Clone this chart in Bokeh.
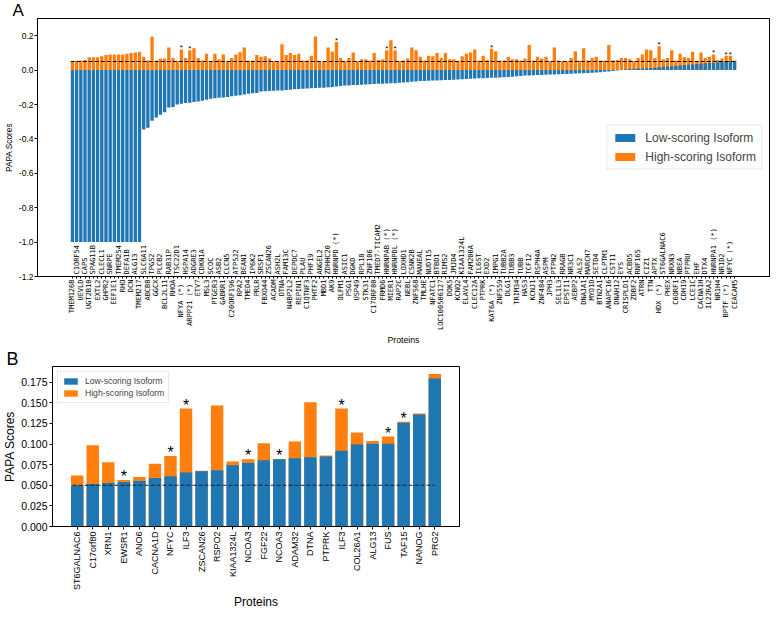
import math
from bokeh.plotting import figure
from bokeh.models import (Range1d, FixedTicker, Legend, LegendItem,
                          ColumnDataSource, NumeralTickFormatter)
from bokeh.layouts import column, row
from bokeh.embed import file_html
from bokeh.resources import INLINE
from bokeh.core.properties import value

# ---------------- Panel A data ----------------
proteins_a = [
    "TMEM126B", "C1ORF54", "UEVLD", "CAPS", "UGT2B10", "SPAG11B", "EXTL2", "CLECL1",
    "GHPR2", "SNRPE", "EEF1E1", "TMEM254", "RHO", "DEFA1B", "DCN", "ALG13",
    "TMEM217", "SLC6A11", "ABCB8", "TPGS2", "GGCX", "PLCB2", "BCL2L11", "RAB31P",
    "RHOA", "TSC22D1", "NFYA  (*)", "HSPA14", "ARPP21  (*)", "ADGRE3", "ETV7", "CDKN1A",
    "MSL3", "SCOC", "PTGER3", "ASB2", "GABRR1", "CLCN5", "C20ORF196", "ATP5J2",
    "RPA2", "BEAN1", "TMED4", "IP6K2", "PRLR", "SRSF1", "FBXO44", "ZSCAN26",
    "ACADM", "ASH2L", "DTNA", "FAM13C", "N4BP2L2", "DEPDC7", "REPIN1", "PLAU",
    "C1QTNF3", "PHF19", "PHTF2", "ANGEL2", "MBD1", "ZDHHC20", "AK9", "HNRNPD  (*)",
    "OLFM1", "ASIC1", "PSG1", "DGKD", "USP49", "RPL18", "STK31", "ZNF106",
    "C17ORF80", "TMED7-TICAM2", "FRMD6", "HNRNPAB  (*)", "MIER1", "HNRNPDL  (*)", "RAP2C", "LOXHD1",
    "NEBL", "CSNK2B", "ZNF568", "MANEAL", "TMLHE", "NUDT15", "NFATC1", "BTBD1",
    "LOC100506127", "RIMS2", "DOK5", "JMJD4", "KCNQ2", "KIAA1324L", "ELAVL4", "FAM200A",
    "CLEC12A", "IL6ST", "PTPRK", "EXD2", "KAT6A  (*)", "IMPG1", "ZNF559", "TUBB2A",
    "DLG1", "TUBB3", "TRIM34", "TUBB", "HAS3", "TCF12", "KCNJ1", "RSPH4A",
    "ZNF484", "ASPM", "JPH3", "PTPN2", "SEL1L3", "RRAGB", "EPSTI1", "NR3C1",
    "AEBP2", "ALS2", "DNAJA1", "MARCH7", "MYO1D", "SETD4", "BTN2A1", "CLPTM1",
    "ANAPC16", "CST11", "DNAH12", "EYS", "CRISPLD1", "ACBD5", "ZDBF2", "RNF165",
    "ATRN", "CIZ1", "TTN", "APTX", "HDX  (*)", "ST6GALNAC6", "PHEX", "NRXN3",
    "C6ORF1", "NBEA", "CDH19", "PTPRU", "LCE1C", "EHF", "CACNA1H", "DTX4",
    "IL22RA2", "HNRNPA1  (*)", "NR1H4", "NR1D2", "BPTF  (*)", "NFYC  (*)", "CEACAM5",
]

low_a = [
    -1.0, -1.0, -1.0, -1.0, -1.0, -1.0, -1.0, -1.0, -1.0, -1.0,
    -1.0, -1.0, -1.0, -1.0, -1.0, -1.0, -1.0, -0.345, -0.335, -0.295,
    -0.275, -0.26, -0.245, -0.218, -0.215, -0.2, -0.196, -0.192, -0.19, -0.186,
    -0.182, -0.178, -0.172, -0.166, -0.163, -0.161, -0.16, -0.156, -0.152, -0.149,
    -0.146, -0.142, -0.137, -0.135, -0.133, -0.125, -0.123, -0.121, -0.12, -0.119,
    -0.118, -0.116, -0.114, -0.112, -0.11, -0.108, -0.107, -0.105, -0.104, -0.103,
    -0.102, -0.1, -0.098, -0.096, -0.093, -0.09, -0.089, -0.087, -0.086, -0.085,
    -0.084, -0.082, -0.081, -0.08, -0.079, -0.078, -0.077, -0.076, -0.074, -0.072,
    -0.07, -0.068, -0.066, -0.064, -0.063, -0.062, -0.061, -0.06, -0.059, -0.058,
    -0.057, -0.056, -0.055, -0.053, -0.052, -0.05, -0.049, -0.048, -0.047, -0.046,
    -0.045, -0.044, -0.043, -0.042, -0.04, -0.038, -0.036, -0.034, -0.032, -0.031,
    -0.03, -0.029, -0.028, -0.027, -0.026, -0.025, -0.024, -0.023, -0.022, -0.021,
    -0.02, -0.019, -0.018, -0.017, -0.016, -0.014, -0.012, -0.01, -0.008, -0.005,
    -0.003, 0.002, 0.004, 0.006, 0.008, 0.009, 0.01, 0.011, 0.012, 0.013,
    0.016, 0.019, 0.021, 0.023, 0.025, 0.027, 0.029, 0.031, 0.033, 0.036,
    0.038, 0.04, 0.042, 0.043, 0.045, 0.047, 0.048, 0.05, 0.053,
]

high_a = [
    0.052, 0.054, 0.056, 0.059, 0.074, 0.074, 0.074, 0.081, 0.088, 0.091,
    0.091, 0.091, 0.091, 0.095, 0.100, 0.102, 0.106, 0.077, 0.056, 0.194,
    0.056, 0.067, 0.067, 0.132, 0.070, 0.052, 0.120, 0.070, 0.116, 0.127,
    0.070, 0.056, 0.095, 0.052, 0.095, 0.063, 0.091, 0.052, 0.070, 0.090,
    0.104, 0.131, 0.056, 0.056, 0.088, 0.077, 0.081, 0.067, 0.052, 0.052,
    0.150, 0.088, 0.099, 0.088, 0.095, 0.056, 0.056, 0.084, 0.195, 0.052,
    0.052, 0.131, 0.108, 0.163, 0.070, 0.052, 0.070, 0.102, 0.052, 0.063,
    0.063, 0.056, 0.099, 0.059, 0.063, 0.116, 0.174, 0.116, 0.052, 0.056,
    0.068, 0.131, 0.116, 0.077, 0.056, 0.084, 0.081, 0.099, 0.070, 0.099,
    0.063, 0.063, 0.052, 0.081, 0.095, 0.102, 0.120, 0.056, 0.084, 0.059,
    0.124, 0.109, 0.056, 0.056, 0.077, 0.063, 0.063, 0.056, 0.067, 0.146,
    0.056, 0.077, 0.067, 0.077, 0.052, 0.131, 0.056, 0.052, 0.052, 0.070,
    0.109, 0.056, 0.127, 0.056, 0.070, 0.077, 0.056, 0.056, 0.146, 0.056,
    0.059, 0.070, 0.070, 0.063, 0.052, 0.070, 0.091, 0.120, 0.116, 0.070,
    0.138, 0.063, 0.070, 0.116, 0.056, 0.095, 0.074, 0.070, 0.106, 0.052,
    0.102, 0.070, 0.077, 0.091, 0.059, 0.067, 0.084, 0.084, 0.056,
]

threshold = 0.05
yticks_a = [-1.2, -1.0, -0.8, -0.6, -0.4, -0.2, 0.0, 0.2]

# ---------------- Panel B data ----------------
proteins_b = ["ST6GALNAC6", "C17orf80", "XRN1", "EWSR1", "ANO6", "CACNA1D", "NFYC",
              "ILF3", "ZSCAN26", "RSPO2", "KIAA1324L", "NCOA3", "FGF22", "NCOA3",
              "ADAM32", "DTNA", "PTPRK", "ILF3", "COL26A1", "ALG13", "FUS", "TAF15",
              "NANOG", "PRG2"]
low_b = [0.050, 0.0515, 0.0526, 0.054, 0.0553, 0.0587, 0.061, 0.0656, 0.0671, 0.0682,
         0.0743, 0.077, 0.0804, 0.0816, 0.0827, 0.0839, 0.085, 0.0919, 0.0995, 0.1003,
         0.1003, 0.1258, 0.1357, 0.1796]
high_b = [0.0618, 0.0984, 0.0778, 0.0564, 0.0599, 0.0762, 0.0854, 0.143, 0.0675, 0.1468,
          0.0789, 0.0816, 0.101, 0.0818, 0.103, 0.1506, 0.0862, 0.143, 0.114, 0.1037,
          0.109, 0.127, 0.1369, 0.185]
starred_b = [False, False, False, True, False, False, True, True, False, False,
             False, True, False, True, False, False, False, True, False, False,
             True, True, False, False]
yticks_b = [0.0, 0.025, 0.05, 0.075, 0.1, 0.125, 0.15, 0.175]

BLUE = "#1f77b4"
ORANGE = "#ff7f0e"
SANS = "Liberation Sans"
MONO = "DejaVu Sans Mono"


def style_common(p):
    p.background_fill_color = "white"
    p.border_fill_color = "white"
    p.outline_line_color = "black"
    p.outline_line_width = 1
    p.xgrid.visible = False
    p.ygrid.visible = False
    for ax in (p.xaxis[0], p.yaxis[0]):
        ax.axis_line_color = "black"
        ax.major_tick_line_color = "black"
        ax.minor_tick_line_color = None
        ax.major_tick_in = 0
        ax.axis_label_text_font_style = "normal"
        ax.axis_label_text_color = "black"
        ax.major_label_text_color = "black"
        ax.axis_label_text_font = SANS
        ax.major_label_text_font = SANS


def panel_letter(p, letter, size, offset, standoff):
    p.title.text = letter
    p.title.align = "left"
    p.title.text_font = SANS
    p.title.text_font_size = size
    p.title.text_font_style = "normal"
    p.title.text_color = "black"
    p.title.offset = offset
    try:
        p.title.standoff = standoff
    except Exception:
        p.title.standoff = 0


# ---------------- Figure A ----------------
n_a = len(proteins_a)
idx_a = list(range(n_a))
pad_a = (n_a - 1 + 0.8) * 0.05
pA = figure(width=770, height=348, output_backend="svg", toolbar_location=None,
            x_range=Range1d(-0.4 - pad_a, n_a - 1 + 0.4 + pad_a),
            y_range=Range1d(-1.2, 0.3),
            min_border_top=0, min_border_right=1, min_border_left=0, min_border_bottom=0)
style_common(pA)
panel_letter(pA, "A", "17px", -25, -3)

src_a = ColumnDataSource(dict(x=idx_a, low=low_a, high=high_a))
r_high_a = pA.vbar(x="x", top="high", bottom=0, width=0.8, source=src_a,
                   fill_color=ORANGE, line_color=None)
r_low_a = pA.vbar(x="x", top="low", bottom=0, width=0.8, source=src_a,
                  fill_color=BLUE, line_color=None)
pA.line(x=[-0.4, n_a - 1 + 0.4], y=[threshold, threshold], line_color="black",
        line_dash="4 2", line_width=1)

# asterisks
star_x = [i for i, n in enumerate(proteins_a) if "(*)" in n]
star_y = [high_a[i] for i in star_x]
pA.text(x=star_x, y=star_y, text=["*"] * len(star_x), text_align="center",
        text_baseline="bottom", text_font=value(SANS), text_font_size="8px",
        text_color="black", y_offset=3)

# upper row of labels (odd positions), inside the frame
up_x = [i for i in idx_a if i % 2 == 1]
up_t = [proteins_a[i] for i in up_x]
pA.text(x=up_x, y=[-1.2] * len(up_x), text=up_t, angle=math.pi / 2,
        text_align="left", text_baseline="middle", y_offset=-2,
        text_font=value(MONO), text_font_size="7px", text_color="black")

xa = pA.xaxis[0]
xa.ticker = FixedTicker(ticks=idx_a)
xa.major_label_overrides = {i: (proteins_a[i] if i % 2 == 0 else "") for i in idx_a}
xa.major_label_orientation = math.pi / 2
xa.major_label_text_font = MONO
xa.major_label_text_font_size = "7px"
xa.major_tick_out = 2
xa.major_label_standoff = 1
xa.axis_label = "Proteins"
xa.axis_label_text_font_size = "8.7px"
xa.axis_label_standoff = 2

ya = pA.yaxis[0]
ya.ticker = FixedTicker(ticks=yticks_a)
ya.formatter = NumeralTickFormatter(format="0.0")
ya.major_label_text_font_size = "8.5px"
ya.major_tick_out = 3
ya.major_label_standoff = 1
ya.axis_label = "PAPA Scores"
ya.axis_label_text_font_size = "8.3px"
ya.axis_label_standoff = 2

leg_a = Legend(items=[LegendItem(label="Low-scoring Isoform", renderers=[r_low_a]),
                      LegendItem(label="High-scoring Isoform", renderers=[r_high_a])],
               location="center_right", margin=7, padding=5, spacing=5,
               glyph_width=25, glyph_height=10, label_height=12, label_standoff=8,
               label_text_font=SANS, label_text_font_size="12px",
               border_line_color="#d0d0d0", border_line_width=1,
               background_fill_color="white", background_fill_alpha=1.0)
pA.add_layout(leg_a)

# ---------------- Figure B ----------------
n_b = len(proteins_b)
idx_b = list(range(n_b))
pad_b = (n_b - 1 + 0.8) * 0.05
pB = figure(width=461, height=264, output_backend="svg", toolbar_location=None,
            x_range=Range1d(-0.4 - pad_b, n_b - 1 + 0.4 + pad_b),
            y_range=Range1d(0, 0.194),
            min_border_top=17, min_border_right=2, min_border_left=0, min_border_bottom=0)
style_common(pB)
panel_letter(pB, "B", "18px", -46, -4)

src_b = ColumnDataSource(dict(x=idx_b, low=low_b, high=high_b))
r_high_b = pB.vbar(x="x", top="high", bottom=0, width=0.8, source=src_b,
                   fill_color=ORANGE, line_color=None)
r_low_b = pB.vbar(x="x", top="low", bottom=0, width=0.8, source=src_b,
                  fill_color=BLUE, line_color=None)
pB.line(x=[-0.3, n_b - 1], y=[threshold, threshold], line_color="#222222",
        line_dash="4 2", line_width=1)

sb_x = [i for i in idx_b if starred_b[i]]
sb_y = [high_b[i] for i in sb_x]
pB.text(x=sb_x, y=sb_y, text=["*"] * len(sb_x), text_align="center",
        text_baseline="bottom", text_font=value(SANS), text_font_size="16px",
        text_color="black", y_offset=5)

xb = pB.xaxis[0]
xb.ticker = FixedTicker(ticks=idx_b)
xb.major_label_overrides = {i: proteins_b[i] for i in idx_b}
xb.major_label_orientation = math.pi / 2
xb.major_label_text_font_size = "9px"
xb.major_tick_out = 3
xb.major_label_standoff = 2
xb.axis_label = "Proteins"
xb.axis_label_text_font_size = "12px"
xb.axis_label_standoff = 2

yb = pB.yaxis[0]
yb.ticker = FixedTicker(ticks=yticks_b)
yb.formatter = NumeralTickFormatter(format="0.000")
yb.major_label_text_font_size = "10.5px"
yb.major_tick_out = 3
yb.major_label_standoff = 2
yb.axis_label = "PAPA Scores"
yb.axis_label_text_font_size = "12px"
yb.axis_label_standoff = 1

leg_b = Legend(items=[LegendItem(label="Low-scoring Isoform", renderers=[r_low_b]),
                      LegendItem(label="High-scoring Isoform", renderers=[r_high_b])],
               location="top_left", margin=5, padding=4, spacing=2,
               glyph_width=17, glyph_height=8, label_height=9, label_standoff=6,
               label_text_font=SANS, label_text_font_size="8.6px",
               border_line_color="#d0d0d0", border_line_width=1,
               background_fill_color="white", background_fill_alpha=1.0)
pB.add_layout(leg_b)

layout = column(row(pA), row(pB), spacing=0)
open("out.html", "w").write(file_html(layout, INLINE))
